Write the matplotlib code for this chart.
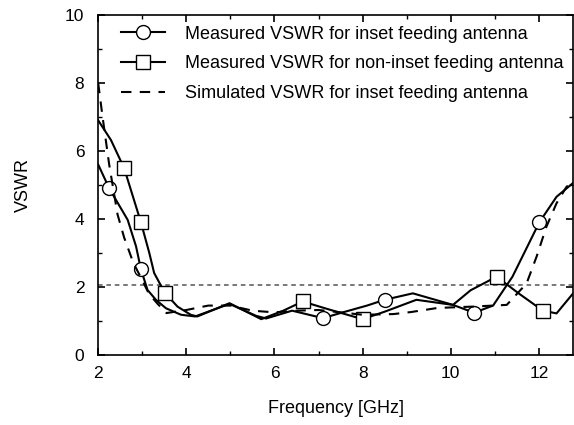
import matplotlib.pyplot as plt
from matplotlib.ticker import MultipleLocator

plt.rcParams['font.family'] = ['Liberation Sans', 'DejaVu Sans']

# measured VSWR, inset feeding antenna (circles)
freq_inset = [2.0, 2.25, 2.67, 2.86, 2.97, 3.12, 3.31, 3.54, 3.88, 4.2, 4.98, 5.58, 5.81,
              6.4, 7.1, 7.55, 8.1, 8.5, 9.14, 10.05, 10.53, 10.96, 11.4, 12.01, 12.4, 12.77]
vswr_inset = [5.6, 4.9, 3.97, 3.19, 2.52, 1.91, 1.62, 1.37, 1.18, 1.13, 1.5, 1.15, 1.07,
              1.3, 1.08, 1.25, 1.45, 1.62, 1.81, 1.47, 1.24, 1.45, 2.3, 3.9, 4.65, 5.05]
marks_inset = [1, 4, 14, 17, 20, 23]

# measured VSWR, non-inset feeding antenna (squares)
freq_noninset = [2.0, 2.29, 2.59, 2.97, 3.16, 3.27, 3.51, 3.8, 4.1, 4.25, 4.98, 5.7, 6.2,
                 6.64, 7.2, 7.6, 8.0, 8.5, 9.22, 10.05, 10.45, 11.04, 11.55, 12.09, 12.4, 12.77]
vswr_noninset = [6.9, 6.32, 5.49, 3.9, 3.0, 2.41, 1.83, 1.42, 1.18, 1.13, 1.52, 1.05, 1.3,
                 1.57, 1.35, 1.2, 1.05, 1.27, 1.62, 1.47, 1.9, 2.3, 1.8, 1.3, 1.22, 1.8]
marks_noninset = [2, 3, 6, 13, 16, 21, 23]

# simulated VSWR, inset feeding antenna (dashed)
freq_sim = [2.0, 2.1, 2.25, 2.44, 2.59, 2.8, 3.0, 3.15, 3.35, 3.55, 4.0, 4.5, 5.0, 5.5,
            6.0, 6.5, 7.0, 7.5, 8.0, 8.7, 9.1, 9.7, 10.5, 11.27, 11.72, 11.95, 12.17,
            12.4, 12.63, 12.77]
vswr_sim = [8.0, 7.0, 5.6, 4.13, 3.45, 2.7, 2.2, 1.8, 1.5, 1.23, 1.32, 1.45, 1.45, 1.3,
            1.25, 1.3, 1.32, 1.25, 1.18, 1.2, 1.26, 1.38, 1.42, 1.47, 2.1, 2.9, 3.77,
            4.46, 4.95, 5.05]

vswr_limit = 2.05

fig = plt.figure(figsize=(5.74, 4.25), dpi=100)
ax = fig.add_axes([0.171, 0.165, 0.827, 0.8])

ax.axhline(vswr_limit, color='#555555', lw=1.1, ls=(0, (3, 2.5)))
ax.plot(freq_inset, vswr_inset, color='black', lw=1.5, marker='o', markersize=10,
        markerfacecolor='white', markeredgewidth=1.0, markevery=marks_inset,
        label='Measured VSWR for inset feeding antenna')
ax.plot(freq_noninset, vswr_noninset, color='black', lw=1.5, marker='s', markersize=10,
        markerfacecolor='white', markeredgewidth=1.0, markevery=marks_noninset,
        label='Measured VSWR for non-inset feeding antenna')
ax.plot(freq_sim, vswr_sim, color='black', lw=1.5, ls=(0, (5, 4)),
        label='Simulated VSWR for inset feeding antenna')

ax.set_xlim(2, 12.77)
ax.set_ylim(0, 10)
ax.xaxis.set_major_locator(MultipleLocator(2))
ax.xaxis.set_minor_locator(MultipleLocator(1))
ax.yaxis.set_major_locator(MultipleLocator(2))
ax.yaxis.set_minor_locator(MultipleLocator(1))
ax.tick_params(which='both', direction='in', top=True, right=True, labelsize=12.5)
ax.tick_params(which='major', length=5, width=1.2)
ax.tick_params(which='minor', length=3, width=1.0)
ax.tick_params(axis='x', which='major', pad=8)
ax.tick_params(axis='y', which='major', pad=10)
for s in ax.spines.values():
    s.set_linewidth(1.2)

ax.set_xlabel('Frequency [GHz]', fontsize=13, labelpad=14)
ax.set_ylabel('VSWR', fontsize=13, labelpad=24)

ax.legend(loc='upper left', bbox_to_anchor=(0.026, 1.0), frameon=False, fontsize=13,
          handlelength=2.4, handletextpad=1.15, labelspacing=0.7, borderaxespad=0.2)

fig.savefig('out.png', dpi=100)
